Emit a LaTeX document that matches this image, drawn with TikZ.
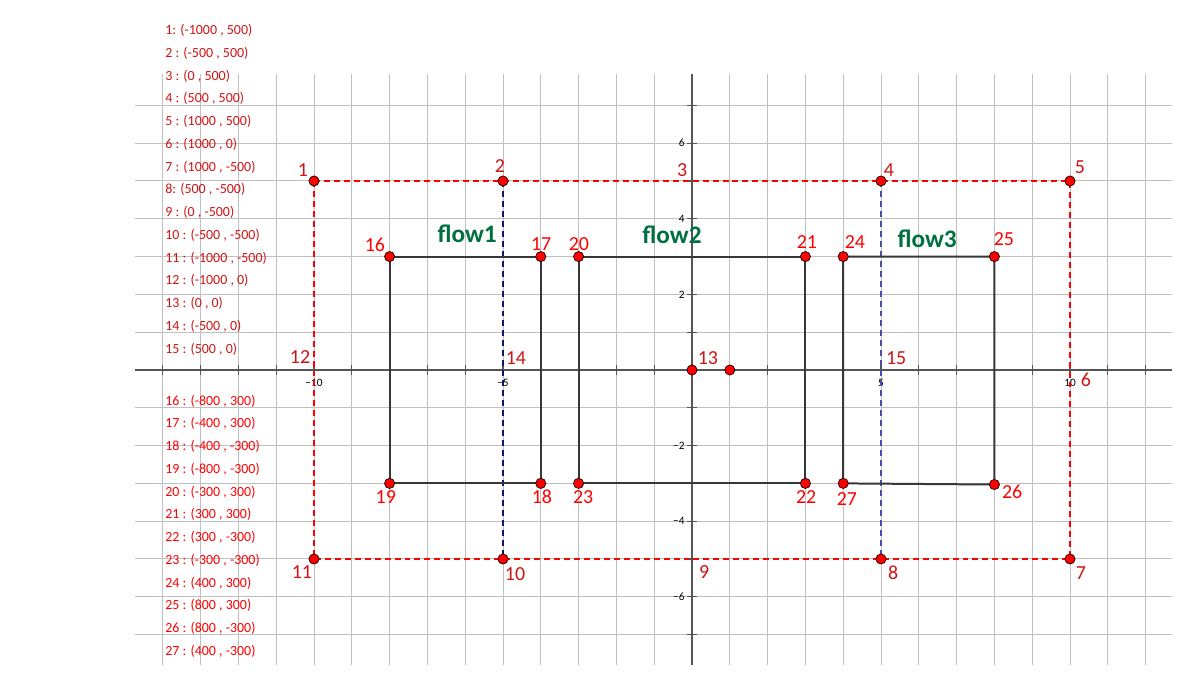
\documentclass[tikz,border=0pt]{standalone}
\usepackage{fontspec}
\setmainfont{Carlito}
\definecolor{dred}{RGB}{208,20,20}
\definecolor{bred}{RGB}{255,0,0}
\definecolor{fgreen}{RGB}{0,112,64}
\definecolor{gridc}{RGB}{192,192,192}
\definecolor{axisc}{RGB}{85,85,85}
\definecolor{boxc}{RGB}{55,55,55}
\definecolor{navyc}{RGB}{20,20,100}
\definecolor{lbluec}{RGB}{75,75,170}
\begin{document}
\begin{tikzpicture}[x=1cm,y=1cm,
  dot/.style={circle,fill=bred,draw=black,line width=0.5pt,inner sep=0pt,minimum size=0.27cm},
  plab/.style={font=\fontsize{15}{17}\selectfont,inner sep=0pt},
  ltxt/.style={font=\fontsize{10.5}{12}\selectfont,inner sep=0pt,anchor=mid west},
  flowlab/.style={font=\bfseries\fontsize{19}{22}\selectfont,text=fgreen,inner sep=0pt},
  ticklab/.style={font=\fontsize{8.5}{10}\selectfont,inner sep=0pt},
  gridline/.style={gridc,line width=0.75pt},
  rdash/.style={bred,line width=0.8pt,dash pattern=on 4.5pt off 3pt},
  ndash/.style={navyc,line width=0.8pt,dash pattern=on 4.5pt off 3pt},
  bdash/.style={lbluec,line width=0.8pt,dash pattern=on 4.5pt off 3pt},
  boxline/.style={boxc,line width=1.5pt,line join=round}]
\useasboundingbox (-18.307,-8.730) rectangle (13.439,9.788);
\fill[white] (-18.307,-8.730) rectangle (13.439,9.788);
% grid
\foreach \y in {-7,...,7} \draw[gridline] (-14.74,\y) -- (12.70,\y);
\foreach \x in {-14,...,12} \draw[gridline] (\x,-7.8) -- (\x,7.83);
% axes
\draw[axisc,line width=0.9pt] (-14.74,0) -- (12.70,0);
\draw[axisc,line width=0.9pt] (0,-7.8) -- (0,7.83);
\foreach \x in {-14,...,12} \draw[axisc,line width=0.8pt] (\x,-0.12) -- (\x,0.12);
\foreach \y in {-7,...,7} \draw[axisc,line width=0.8pt] (-0.13,\y) -- (0.13,\y);
% tick labels
\node[ticklab] (tx1) at (-10,-0.34) {−10};
\node[ticklab] (tx2) at (-5,-0.34) {−5};
\node[ticklab] (tx3) at (5,-0.34) {5};
\node[ticklab] (tx4) at (10,-0.34) {10};
\foreach \v/\s in {6/6,4/4,2/2,-2/−2,-4/−4,-6/−6}
  \node[ticklab,anchor=east] (ty\v) at (-0.19,\v) {\s};
% coordinates
\coordinate (c1) at (-10,5);
\coordinate (c2) at (-5,5);
\coordinate (c3) at (0,5);
\coordinate (c4) at (5,5);
\coordinate (c5) at (10,5);
\coordinate (c6) at (10,0);
\coordinate (c7) at (10,-5);
\coordinate (c8) at (5,-5);
\coordinate (c9) at (0,-5);
\coordinate (c10) at (-5,-5);
\coordinate (c11) at (-10,-5);
\coordinate (c12) at (-10,0);
\coordinate (c13) at (0,0);
\coordinate (c14) at (-5,0);
\coordinate (c15) at (5,0);
\coordinate (c16) at (-8,3);
\coordinate (c17) at (-4,3);
\coordinate (c18) at (-4,-3);
\coordinate (c19) at (-8,-3);
\coordinate (c20) at (-3,3);
\coordinate (c21) at (3,3);
\coordinate (c22) at (3,-3);
\coordinate (c23) at (-3,-3);
\coordinate (c24) at (4,3);
\coordinate (c25) at (8,3);
\coordinate (c26) at (8,-3.03);
\coordinate (c27) at (4,-3);
\coordinate (c0) at (1,0);
% dashed frame
\draw[rdash] (c1) -- (c2) -- (c3) -- (c4) -- (c5) -- (c6) -- (c7) -- (c8) -- (c9) -- (c10) -- (c11) -- (c12) -- cycle;
\draw[ndash] (c2) -- (c14) -- (c10);
\draw[bdash] (c4) -- (c15) -- (c8);
% boxes
\draw[boxline] (c16) -- (c17) -- (c18) -- (c19) -- cycle;
\draw[boxline] (c20) -- (c21) -- (c22) -- (c23) -- cycle;
\draw[boxline] (c24) -- (c25) -- (c26) -- (c27) -- cycle;
% dots
\foreach \i in {1,2,4,5,7,8,10,11,13,16,17,18,19,20,21,22,23,24,25,26,27,0}
  \node[dot] (p\i) at (c\i) {};
% point labels
\node[plab,dred] (l1) at (-10.29,5.29) {1};
\node[plab,dred] (l2) at (-5.08,5.40) {2};
\node[plab,dred] (l3) at (-0.26,5.29) {3};
\node[plab,dred] (l4) at (5.21,5.29) {4};
\node[plab,dred] (l5) at (10.26,5.37) {5};
\node[plab,dred] (l6) at (10.42,-0.26) {6};
\node[plab,dred] (l7) at (10.29,-5.37) {7};
\node[plab,dred] (l8) at (5.32,-5.37) {8};
\node[plab,dred] (l9) at (0.32,-5.34) {9};
\node[plab,dred] (l10) at (-4.68,-5.40) {10};
\node[plab,dred] (l11) at (-10.32,-5.34) {11};
\node[plab,dred] (l12) at (-10.37,0.34) {12};
\node[plab,dred] (l13) at (0.42,0.32) {13};
\node[plab,dred] (l14) at (-4.66,0.32) {14};
\node[plab,dred] (l15) at (5.40,0.32) {15};
\node[plab,bred] (l16) at (-8.39,3.31) {16};
\node[plab,bred] (l17) at (-3.99,3.33) {17};
\node[plab,bred] (l18) at (-3.97,-3.36) {18};
\node[plab,bred] (l19) at (-8.10,-3.36) {19};
\node[plab,bred] (l20) at (-2.99,3.33) {20};
\node[plab,bred] (l21) at (3.04,3.39) {21};
\node[plab,bred] (l22) at (3.02,-3.36) {22};
\node[plab,bred] (l23) at (-2.88,-3.36) {23};
\node[plab,bred] (l24) at (4.31,3.39) {24};
\node[plab,bred] (l25) at (8.25,3.47) {25};
\node[plab,bred] (l26) at (8.47,-3.23) {26};
\node[plab,bred] (l27) at (4.10,-3.41) {27};
% flow labels
\node[flowlab] (f1) at (-5.95,3.60) {flow1};
\node[flowlab] (f2) at (-0.53,3.57) {flow2};
\node[flowlab] (f3) at (6.22,3.47) {flow3};
% coordinate list
\foreach \i/\t in {1/{1: (-1000 , 500)},2/{2 : (-500 , 500)},3/{3 : (0 , 500)},4/{4 : (500 , 500)},5/{5 : (1000 , 500)},6/{6 : (1000 , 0)},7/{7 : (1000 , -500)},8/{8: (500 , -500)},9/{9 : (0 , -500)},10/{10 : (-500 , -500)},11/{11 : (-1000 , -500)},12/{12 : (-1000 , 0)},13/{13 : (0 , 0)},14/{14 : (-500 , 0)},15/{15 : (500 , 0)}}
  \node[ltxt,dred] (t\i) at (-13.94,{(370-31.5-(\i-1)*22.75)/37.8}) {\t};
\foreach \i/\t in {16/{16 : (-800 , 300)},17/{17 : (-400 , 300)},18/{18 : (-400 , -300)},19/{19 : (-800 , -300)},20/{20 : (-300 , 300)},21/{21 : (300 , 300)},22/{22 : (300 , -300)},23/{23 : (-300 , -300)},24/{24 : (400 , 300)},25/{25 : (800 , 300)},26/{26 : (800 , -300)},27/{27 : (400 , -300)}}
  \node[ltxt,bred] (t\i) at (-13.94,{(370-402-(\i-16)*22.75)/37.8}) {\t};
\end{tikzpicture}
\end{document}
